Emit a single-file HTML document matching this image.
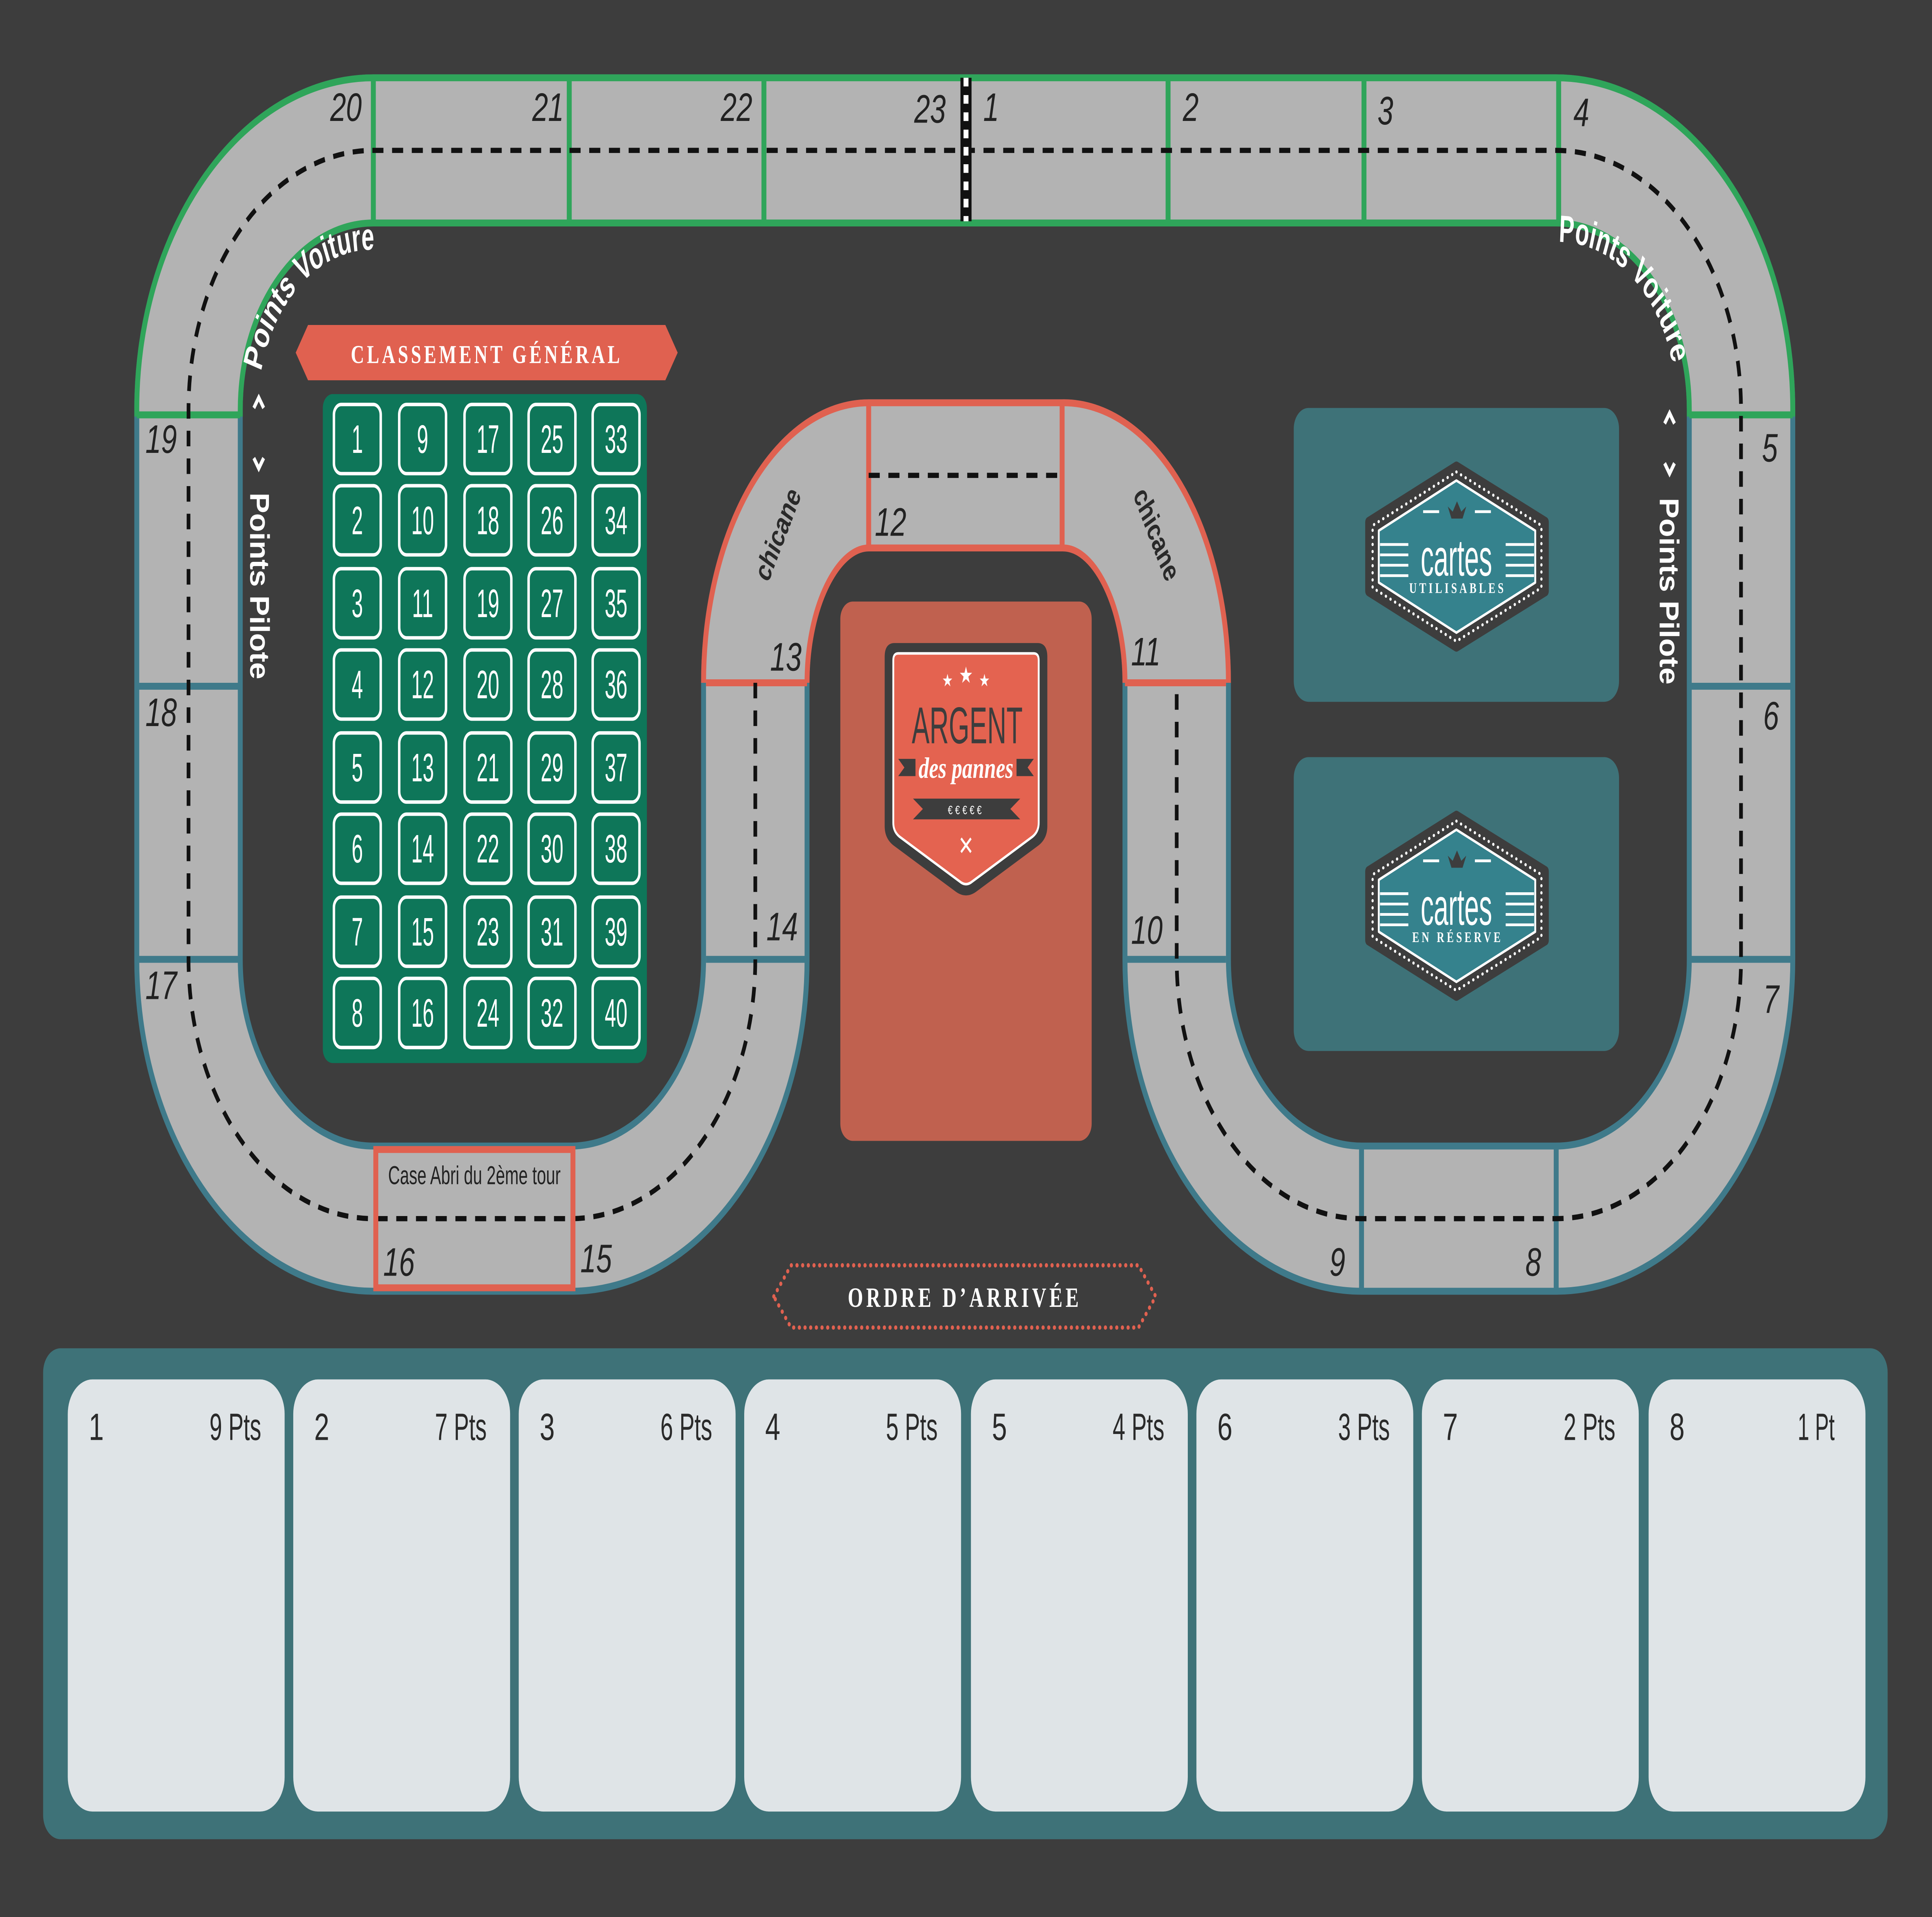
<!DOCTYPE html>
<html><head><meta charset="utf-8"><style>
html,body{margin:0;padding:0;background:#3d3d3d;width:100%;height:100%;overflow:hidden;}
svg{display:block;position:absolute;left:0;top:0;width:100vw;height:100vh;}
.n{font-family:"Liberation Sans",sans-serif;font-style:italic;font-size:23px;fill:#222;}
.c{font-family:"Liberation Sans Narrow","Liberation Sans",sans-serif;font-stretch:condensed;}
.sx{transform-box:fill-box;transform-origin:center;transform:scaleX(0.72);}
</style></head><body>
<svg viewBox="0 0 1568 1109" preserveAspectRatio="none" xmlns="http://www.w3.org/2000/svg">
<rect width="1568" height="1109" fill="#3d3d3d"/>
<defs>
<path id="center" d="M303 87 H1263 A150 150 0 0 1 1413 237 V555 A150 150 0 0 1 1263 705 H1105 A150 150 0 0 1 955 555 V395 A92 120 0 0 0 862 275 H705 A92 120 0 0 0 613 395 V555 A150 150 0 0 1 465 705 H303 A150 150 0 0 1 153 555 V237 A150 150 0 0 1 303 87 Z"/>
<path id="pvL" d="M212 215 A92 92 0 0 1 311.3 145"/>
<path id="pvR" d="M1265 140 A95 95 0 0 1 1360 225"/>
</defs>
<use href="#center" fill="none" stroke="#3f7a8a" stroke-width="88"/>
<path d="M153 241 V237 A150 150 0 0 1 303 87 H1263 A150 150 0 0 1 1413 237 V241" fill="none" stroke="#2fa55a" stroke-width="88"/>
<path d="M613 395 A92 120 0 0 1 705 275 H862 A92 120 0 0 1 955 395" fill="none" stroke="#e06150" stroke-width="88"/>
<use href="#center" fill="none" stroke="#b3b3b3" stroke-width="80"/>
<g stroke="#2fa55a" stroke-width="4">
<line x1="303" y1="45" x2="303" y2="128"/><line x1="462" y1="45" x2="462" y2="128"/><line x1="620" y1="45" x2="620" y2="128"/>
<line x1="948" y1="45" x2="948" y2="128"/><line x1="1107" y1="45" x2="1107" y2="128"/><line x1="1265" y1="45" x2="1265" y2="128"/>
<line x1="111" y1="240" x2="195" y2="240"/><line x1="1371" y1="240" x2="1455" y2="240"/>
</g>
<g stroke="#3f7a8a" stroke-width="4">
<line x1="111" y1="397" x2="195" y2="397"/><line x1="111" y1="555" x2="195" y2="555"/>
<line x1="1371" y1="397" x2="1455" y2="397"/><line x1="1371" y1="555" x2="1455" y2="555"/>
<line x1="573" y1="555" x2="655" y2="555"/><line x1="913" y1="555" x2="995" y2="555"/>
<line x1="1105" y1="663" x2="1105" y2="747"/><line x1="1263" y1="663" x2="1263" y2="747"/>
</g>
<g stroke="#e06150" stroke-width="4">
<line x1="705" y1="233" x2="705" y2="317"/><line x1="862" y1="233" x2="862" y2="317"/>
<line x1="573" y1="395" x2="655" y2="395"/><line x1="913" y1="395" x2="995" y2="395"/>
</g>
<path d="M613 395 V555 A150 150 0 0 1 465 705 H303 A150 150 0 0 1 153 555 V237 A150 150 0 0 1 303 87 H1263 A150 150 0 0 1 1413 237 V555 A150 150 0 0 1 1263 705 H1105 A150 150 0 0 1 955 555 V395" fill="none" stroke="#111" stroke-width="3" stroke-dasharray="9 7"/>
<path d="M705 275 H862" stroke="#111" stroke-width="3" stroke-dasharray="9 7"/>
<line x1="784" y1="45" x2="784" y2="128" stroke="#111" stroke-width="9"/>
<line x1="784" y1="45" x2="784" y2="128" stroke="#fff" stroke-width="4" stroke-dasharray="5 5"/>
<rect x="305" y="665" width="160" height="80" fill="none" stroke="#e06150" stroke-width="4"/>
<text x="385" y="685" class="c" font-size="15" fill="#222" text-anchor="middle" textLength="140" lengthAdjust="spacingAndGlyphs">Case Abri du 2ème tour</text>
<g class="n">
<text x="268" y="70">20</text><text x="432" y="70">21</text><text x="585" y="70">22</text><text x="742" y="71">23</text>
<text x="798" y="70">1</text><text x="960" y="70">2</text><text x="1118" y="72">3</text><text x="1277" y="73">4</text>
<text x="1430" y="267">5</text><text x="1431" y="422">6</text><text x="1431" y="586">7</text>
<text x="1238" y="738">8</text><text x="1079" y="738">9</text>
<text x="918" y="546">10</text><text x="918" y="385">11</text><text x="710" y="310">12</text>
<text x="625" y="388">13</text><text x="622" y="544">14</text>
<text x="471" y="736">15</text><text x="311" y="738">16</text>
<text x="118" y="578">17</text><text x="118" y="420">18</text><text x="118" y="262">19</text>
</g>
<g class="c" font-size="22" font-weight="bold" fill="#fff">
<text><textPath href="#pvL" textLength="125" lengthAdjust="spacingAndGlyphs">Points Voiture</textPath></text>
<text><textPath href="#pvR" textLength="125" lengthAdjust="spacingAndGlyphs">Points Voiture</textPath></text>
<text transform="translate(203,285) rotate(90)" textLength="108" lengthAdjust="spacingAndGlyphs">Points Pilote</text>
<text transform="translate(1347,288) rotate(90)" textLength="108" lengthAdjust="spacingAndGlyphs">Points Pilote</text>
</g>
<g stroke="#fff" stroke-width="2.5" fill="none">
<path d="M206 236 L210 230 L214 236"/><path d="M206 265 L210 271 L214 265"/>
<path d="M1351 245 L1355 239 L1359 245"/><path d="M1351 268 L1355 274 L1359 268"/>
</g>
<g class="c" font-size="19" font-weight="bold" fill="#2a2a2a" text-anchor="middle">
<text transform="translate(637,312) rotate(-62)" textLength="58" lengthAdjust="spacingAndGlyphs">chicane</text>
<text transform="translate(933,312) rotate(62)" textLength="58" lengthAdjust="spacingAndGlyphs">chicane</text>
</g>
<polygon points="240,204 250,188 540,188 550,204 540,220 250,220" fill="#e06150"/>
<text x="395" y="210" font-family="Liberation Serif,serif" font-weight="bold" font-size="15" fill="#fff" text-anchor="middle" letter-spacing="2.2">CLASSEMENT GÉNÉRAL</text>
<rect x="262" y="228" width="263" height="387" rx="8" fill="#0e7659"/>
<g fill="none" stroke="#fff" stroke-width="2">
<g id="col">
<rect x="271" y="234" width="38" height="40" rx="6"/><rect x="271" y="281" width="38" height="40" rx="6"/><rect x="271" y="329" width="38" height="40" rx="6"/><rect x="271" y="376" width="38" height="40" rx="6"/>
<rect x="271" y="424" width="38" height="40" rx="6"/><rect x="271" y="471" width="38" height="40" rx="6"/><rect x="271" y="519" width="38" height="40" rx="6"/><rect x="271" y="566" width="38" height="40" rx="6"/>
</g>
<use href="#col" x="53"/><use href="#col" x="106"/><use href="#col" x="158"/><use href="#col" x="210"/>
</g>
<g class="c" font-size="23" fill="#fff" text-anchor="middle">
<g class="sx"><text x="290" y="262">1</text><text x="290" y="309">2</text><text x="290" y="357">3</text><text x="290" y="404">4</text><text x="290" y="452">5</text><text x="290" y="499">6</text><text x="290" y="547">7</text><text x="290" y="594">8</text></g>
<g class="sx"><text x="343" y="262">9</text><text x="343" y="309">10</text><text x="343" y="357">11</text><text x="343" y="404">12</text><text x="343" y="452">13</text><text x="343" y="499">14</text><text x="343" y="547">15</text><text x="343" y="594">16</text></g>
<g class="sx"><text x="396" y="262">17</text><text x="396" y="309">18</text><text x="396" y="357">19</text><text x="396" y="404">20</text><text x="396" y="452">21</text><text x="396" y="499">22</text><text x="396" y="547">23</text><text x="396" y="594">24</text></g>
<g class="sx"><text x="448" y="262">25</text><text x="448" y="309">26</text><text x="448" y="357">27</text><text x="448" y="404">28</text><text x="448" y="452">29</text><text x="448" y="499">30</text><text x="448" y="547">31</text><text x="448" y="594">32</text></g>
<g class="sx"><text x="500" y="262">33</text><text x="500" y="309">34</text><text x="500" y="357">35</text><text x="500" y="404">36</text><text x="500" y="452">37</text><text x="500" y="499">38</text><text x="500" y="547">39</text><text x="500" y="594">40</text></g>
</g>
<rect x="682" y="348" width="204" height="312" rx="10" fill="#c0614f"/>
<path d="M726 372 H842 Q850 372 850 380 V478 Q850 485 843 489 L792 516 Q784 520 776 516 L725 489 Q718 485 718 478 V380 Q718 372 726 372 Z" fill="#3d3d3d"/>
<path d="M729 378 H839 Q843 378 843 382 V476 Q843 481 838 484 L789 510 Q784 513 779 510 L730 484 Q725 481 725 476 V382 Q725 378 729 378 Z" fill="#e46350" stroke="#fff" stroke-width="1.5"/>
<g fill="#fff" font-size="10" text-anchor="middle"><text x="769" y="397">★</text><text x="784" y="395" font-size="13">★</text><text x="799" y="397">★</text></g>
<text x="785" y="430" class="c" font-size="30" fill="#3d3d3d" text-anchor="middle" textLength="90" lengthAdjust="spacingAndGlyphs">ARGENT</text>
<polygon points="729,439 743,439 743,449 729,449 734,444" fill="#3d3d3d"/>
<polygon points="839,439 825,439 825,449 839,449 834,444" fill="#3d3d3d"/>
<text x="784" y="450" font-family="Liberation Serif,serif" font-style="italic" font-weight="bold" font-size="17" fill="#fff" text-anchor="middle">des pannes</text>
<polygon points="741,462 828,462 820,468 828,474 741,474 749,468" fill="#3d3d3d"/>
<text x="784" y="471" font-family="Liberation Sans,sans-serif" font-size="7" fill="#fff" text-anchor="middle" letter-spacing="2">€€€€€</text>
<path d="M780 485 L788 493 M788 485 L780 493" stroke="#fff" stroke-width="1.5"/>
<rect x="1050" y="236" width="264" height="170" rx="12" fill="#3e7278"/>
<rect x="1050" y="438" width="264" height="170" rx="12" fill="#3e7278"/>
<g id="hex">
<polygon points="1182,270 1254,302 1254,342 1182,374 1111,342 1111,302" fill="#3d3d3d" stroke="#3d3d3d" stroke-width="6" stroke-linejoin="round"/>
<polygon points="1182,273 1251,304 1251,340 1182,371 1114,340 1114,304" fill="none" stroke="#fff" stroke-width="1.8" stroke-dasharray="0.1 4" stroke-linecap="round"/>
<polygon points="1182,278 1246,307 1246,337 1182,366 1119,337 1119,307" fill="#35828d" stroke="#fff" stroke-width="1.5" stroke-linejoin="round"/>
<path d="M1175 293 L1178 300 H1187 L1190 293 L1186 296 L1182.5 290 L1179 296 Z" fill="#3d3d3d"/>
<path d="M1155 296 H1168 M1197 296 H1210" stroke="#fff" stroke-width="1.6"/>
<path d="M1120 315 H1143 M1120 321 H1143 M1120 327 H1143 M1120 333 H1143 M1222 315 H1245 M1222 321 H1245 M1222 327 H1245 M1222 333 H1245" stroke="#fff" stroke-width="1.6"/>
</g>
<use href="#hex" y="202"/>
<g class="c" fill="#fff" text-anchor="middle">
<text x="1182" y="333" font-size="30" textLength="58" lengthAdjust="spacingAndGlyphs">cartes</text>
<text x="1182" y="535" font-size="30" textLength="58" lengthAdjust="spacingAndGlyphs">cartes</text>
</g>
<g font-family="Liberation Serif,serif" font-weight="bold" fill="#fff" text-anchor="middle" font-size="8.5" letter-spacing="2">
<text x="1183" y="343">UTILISABLES</text><text x="1183" y="545">EN RÉSERVE</text>
</g>
<polygon points="628,750 642,732 924,732 938,750 924,768 642,768" fill="none" stroke="#e06150" stroke-width="2.5" stroke-dasharray="0.1 4.5" stroke-linecap="round"/>
<text x="783" y="756" font-family="Liberation Serif,serif" font-weight="bold" font-size="16" fill="#fff" text-anchor="middle" letter-spacing="2.5">ORDRE D’ARRIVÉE</text>
<rect x="35" y="780" width="1497" height="284" rx="14" fill="#3e7278"/>
<g fill="#dfe4e7">
<rect x="55" y="798" width="176" height="250" rx="20"/><rect x="238" y="798" width="176" height="250" rx="20"/>
<rect x="421" y="798" width="176" height="250" rx="20"/><rect x="604" y="798" width="176" height="250" rx="20"/>
<rect x="788" y="798" width="176" height="250" rx="20"/><rect x="971" y="798" width="176" height="250" rx="20"/>
<rect x="1154" y="798" width="176" height="250" rx="20"/><rect x="1338" y="798" width="176" height="250" rx="20"/>
</g>
<g class="c" font-size="22" fill="#2a2a2a">
<text x="72" y="833">1</text><text x="255" y="833">2</text><text x="438" y="833">3</text><text x="621" y="833">4</text>
<text x="805" y="833">5</text><text x="988" y="833">6</text><text x="1171" y="833">7</text><text x="1355" y="833">8</text>
</g>
<g class="c" font-size="22" fill="#2a2a2a" text-anchor="end">
<text x="212" y="833" textLength="42" lengthAdjust="spacingAndGlyphs">9 Pts</text><text x="395" y="833" textLength="42" lengthAdjust="spacingAndGlyphs">7 Pts</text><text x="578" y="833" textLength="42" lengthAdjust="spacingAndGlyphs">6 Pts</text><text x="761" y="833" textLength="42" lengthAdjust="spacingAndGlyphs">5 Pts</text>
<text x="945" y="833" textLength="42" lengthAdjust="spacingAndGlyphs">4 Pts</text><text x="1128" y="833" textLength="42" lengthAdjust="spacingAndGlyphs">3 Pts</text><text x="1311" y="833" textLength="42" lengthAdjust="spacingAndGlyphs">2 Pts</text><text x="1489" y="833" textLength="30" lengthAdjust="spacingAndGlyphs">1 Pt</text>
</g>
</svg>
</body></html>
